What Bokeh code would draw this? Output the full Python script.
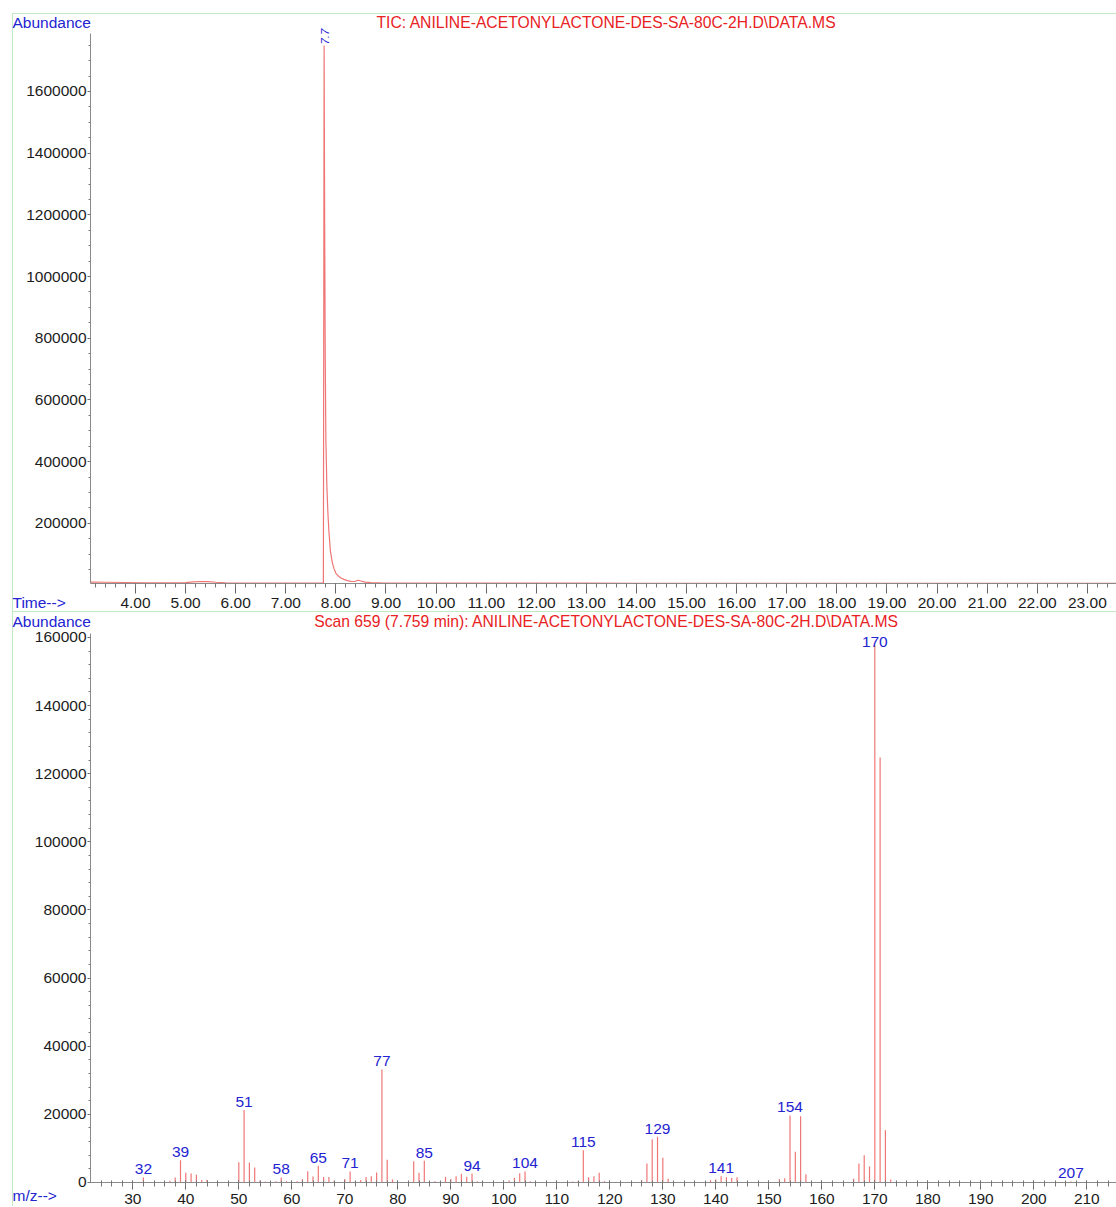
import math
from bokeh.plotting import figure
from bokeh.models import (ColumnDataSource, Range1d, SingleIntervalTicker, Label, LabelSet,
                          PrintfTickFormatter, BasicTickFormatter)
from bokeh.layouts import column
from bokeh.embed import file_html
from bokeh.resources import INLINE
from bokeh.core.properties import value

# ---------------- data ----------------
tic_title = "TIC: ANILINE-ACETONYLACTONE-DES-SA-80C-2H.D\\DATA.MS"
scan_title = "Scan 659 (7.759 min): ANILINE-ACETONYLACTONE-DES-SA-80C-2H.D\\DATA.MS"
peak_label = "7.7"

tic_time = [3.10, 3.40, 3.80, 4.20, 4.60, 5.00, 5.15, 5.30, 5.45, 5.60, 5.80, 6.20,
            6.60, 7.00, 7.40, 7.70, 7.750, 7.758, 7.765, 7.775, 7.788, 7.800, 7.820,
            7.840, 7.860, 7.890, 7.930, 7.960, 8.000, 8.050, 8.100, 8.160, 8.230,
            8.300, 8.380, 8.440, 8.500, 8.580, 8.700, 8.900, 9.300, 10.00, 11.00,
            12.00, 13.00, 14.00, 15.00, 16.00, 17.00, 18.00, 19.00, 20.00, 21.00,
            22.00, 23.00, 23.58]
tic_abund = [9500, 9000, 8200, 7500, 7000, 7600, 10000, 11500, 11000, 9000, 7200, 6500,
             6200, 6000, 6000, 6200, 7000, 900000, 1749000, 1200000, 720000, 470000,
             320000, 235000, 175000, 110000, 72000, 54000, 38000, 29000, 23000, 18500,
             14500, 12000, 11500, 15500, 13000, 9500, 8000, 7000, 6500, 6200, 6000,
             5900, 5900, 5800, 5800, 5800, 5800, 5800, 5800, 5800, 5800, 5800, 5800, 5800]

ms_mz = [32, 37, 38, 39, 40, 41, 42, 43, 44, 50, 51, 52, 53, 54, 55, 57, 58, 59, 61,
         62, 63, 64, 65, 66, 67, 68, 70, 71, 72, 73, 74, 75, 76, 77, 78, 79, 83, 84,
         85, 86, 87, 89, 90, 91, 92, 93, 94, 95, 96, 101, 102, 103, 104, 105, 113,
         114, 115, 116, 117, 118, 119, 126, 127, 128, 129, 130, 131, 132, 139, 140,
         141, 142, 143, 144, 152, 153, 154, 155, 156, 157, 166, 167, 168, 169, 170,
         171, 172, 173, 207]
ms_abund = [1500, 500, 1500, 6550, 2850, 2650, 2250, 700, 700, 5970, 21250, 5900, 4400,
            600, 300, 400, 1500, 400, 400, 1000, 3300, 1750, 4900, 1650, 1650, 500, 1000,
            3230, 400, 700, 1650, 1850, 2940, 33200, 6650, 900, 6260, 2850, 6360, 300,
            400, 1660, 1000, 1860, 2540, 1660, 2640, 400, 300, 600, 1370, 2740, 3230, 400,
            300, 400, 9500, 1570, 1860, 2840, 400, 700, 5580, 12730, 13410, 7250, 1080,
            300, 700, 900, 1860, 1570, 1370, 1570, 1000, 1280, 19680, 9010, 19480, 2450,
            1080, 5580, 8030, 4700, 157700, 124800, 15370, 880, 300]
label_mz = [32, 39, 51, 58, 65, 71, 77, 85, 94, 104, 115, 129, 141, 154, 170, 207]

# axis extents (where the axes start / end)
tic_x_bounds = (3.102, 23.58)
tic_y_bounds = (5000, 1788000)
ms_x_bounds = (22.02, 215.6)
ms_y_bounds = (0, 161174)

# ---------------- styles ----------------
FONT = "Liberation Sans"
FS = "15.5px"
FT = "15.7px"
BLUE = "#2323d2"
RED = "#e8221e"
TRACE = "#f07676"
GRAY = "#8a8a8a"
GREEN = "#c2eac2"
W = 1116


def make_fig(h, xr, yr, xb, yb):
    p = figure(width=W, height=h, x_range=Range1d(*xr), y_range=Range1d(*yr),
               output_backend="svg", toolbar_location=None,
               min_border_left=0, min_border_right=0, min_border_top=0, min_border_bottom=0,
               background_fill_color=None, border_fill_color=None, outline_line_color=None)
    p.grid.visible = False
    x, y = p.xaxis[0], p.yaxis[0]
    x.fixed_location = yb[0]
    x.bounds = xb
    y.fixed_location = xb[0]
    y.bounds = yb
    for ax in (x, y):
        ax.axis_line_color = GRAY
        ax.major_tick_line_color = "#666666"
        ax.minor_tick_line_color = "#777777"
        ax.major_label_text_font = FONT
        ax.major_label_text_font_size = FS
        ax.major_label_text_color = "#1c1c1c"
    y.major_tick_out = 3
    y.major_tick_in = 0
    y.minor_tick_out = 2
    y.minor_tick_in = 0
    y.major_label_standoff = 1
    y.formatter = BasicTickFormatter(use_scientific=False)
    return p


def add_text(p, x, y, text, color, align="left", size=FS):
    p.add_layout(Label(x=x, y=y, text=text, text_color=color, text_font=FONT,
                       text_font_size=size, text_align=align, text_baseline="middle"))


# ---------------- top: TIC ----------------
p1 = make_fig(611, (1.3054, 23.581), (-85770, 1894969), tic_x_bounds, tic_y_bounds)
xa = p1.xaxis[0]
xa.ticker = SingleIntervalTicker(interval=1, num_minor_ticks=5)
xa.formatter = PrintfTickFormatter(format="%.2f")
xa.major_tick_out = 10
xa.major_tick_in = 0
xa.minor_tick_out = 4
xa.minor_tick_in = 0
xa.major_label_standoff = 4
p1.yaxis[0].ticker = SingleIntervalTicker(interval=200000, num_minor_ticks=4)

p1.line(tic_time, tic_abund, line_color=TRACE, line_width=1.2)

apex = max(range(len(tic_abund)), key=lambda i: tic_abund[i])
p1.add_layout(Label(x=tic_time[apex], y=tic_abund[apex], text=peak_label, angle=math.pi / 2,
                    text_color=BLUE, text_font=FONT, text_font_size="11.5px",
                    text_font_style="italic", text_align="left", text_baseline="middle",
                    x_offset=1, y_offset=1))

add_text(p1, 1.5449, 1823650, "Abundance", BLUE)
add_text(p1, 13.401, 1823650, tic_title, RED, align="center", size=FT)
add_text(p1, 1.5449, -56594, "Time-->", BLUE)

p1.styles = {
    "background-image": f"linear-gradient({GREEN},{GREEN}), linear-gradient({GREEN},{GREEN})",
    "background-size": "1px 100%, 100% 1px",
    "background-position": "12px 13px, 12px 13px",
    "background-repeat": "no-repeat",
}

# ---------------- bottom: mass spectrum ----------------
p2 = make_fig(595, (5.0377, 215.60), (-7046, 167633), ms_x_bounds, ms_y_bounds)
xb = p2.xaxis[0]
xb.ticker = SingleIntervalTicker(interval=10, num_minor_ticks=5)
xb.major_tick_out = 7
xb.major_tick_in = 2
xb.minor_tick_out = 4
xb.minor_tick_in = 2
xb.major_label_standoff = 5
p2.yaxis[0].ticker = SingleIntervalTicker(interval=20000, num_minor_ticks=5)

src = ColumnDataSource(dict(mz=ms_mz, ab=ms_abund, zero=[0] * len(ms_mz)))
p2.segment(x0="mz", y0="zero", x1="mz", y1="ab", source=src, line_color=TRACE, line_width=1.2)

per_px = (167633 + 7046) / 595
cap = ms_y_bounds[1] - 16 * per_px      # keep the tallest peak's label below the axis top
lab_src = ColumnDataSource(dict(
    mz=label_mz,
    ly=[min(ms_abund[ms_mz.index(m)], cap) for m in label_mz],
    txt=[str(m) for m in label_mz],
))
p2.add_layout(LabelSet(x="mz", y="ly", text="txt", source=lab_src, text_color=BLUE,
                       text_font=value(FONT), text_font_size=value(FS), text_align="center",
                       text_baseline="alphabetic", y_offset=3))

add_text(p2, 7.302, 164698, "Abundance", BLUE)
add_text(p2, 119.38, 164698, scan_title, RED, align="center", size=FT)
add_text(p2, 7.302, -3950, "m/z-->", BLUE)

p2.styles = {
    "background-image": f"linear-gradient({GREEN},{GREEN}), linear-gradient({GREEN},{GREEN})",
    "background-size": "1px 100%, 100% 1px",
    "background-position": "12px 0, 12px 0",
    "background-repeat": "no-repeat",
}

layout = column(p1, p2, spacing=0)
open("out.html", "w").write(file_html(layout, INLINE))
